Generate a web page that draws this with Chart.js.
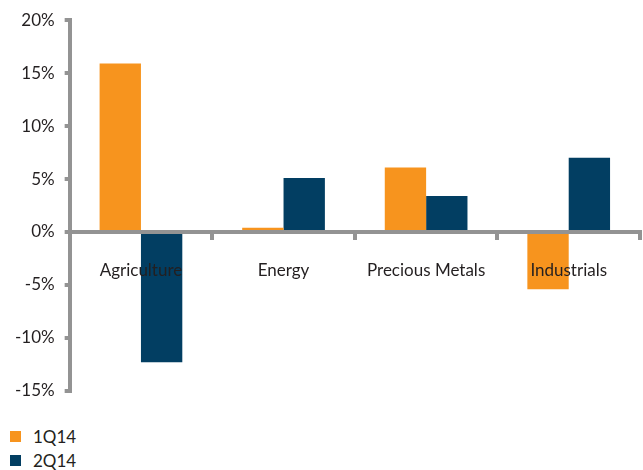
<!DOCTYPE html>
<html lang="en">
<head>
  <meta charset="UTF-8" />
  <title>Commodity returns 1Q14 vs 2Q14</title>
  <script src="https://cdn.jsdelivr.net/npm/chart.js"></script>
  <style>
    body { margin: 0; background: #fff; font-family: Lato, sans-serif; }
    .wrap { position: relative; width: 643px; height: 470px; }
    .chart-box { position: absolute; left: 0; top: 0; width: 643px; height: 411px; }
    #legend { position: absolute; left: 10px; top: 424px; font-size: 17px; color: #231f20; }
    #legend .item { display: flex; align-items: center; height: 24px; }
    #legend .swatch { width: 11px; height: 11px; margin-right: 12px; }
  </style>
</head>
<body>
<div class="wrap">
  <div class="chart-box"><canvas id="returnsChart"></canvas></div>
  <div id="legend"></div>
</div>

<script>
  const categories = ['Agriculture', 'Energy', 'Precious Metals', 'Industrials'];
  const q1Values = [15.9, 0.4, 6.1, -5.4];
  const q2Values = [-12.3, 5.1, 3.4, 7.0];
  const seriesNames = ['1Q14', '2Q14'];
  const seriesColors = ['#F7941E', '#023E62'];
  const yTicks = [20, 15, 10, 5, 0, -5, -10, -15];

  const axisGray = '#939393';
  const textColor = '#231f20';

  const chart = new Chart(document.getElementById('returnsChart'), {
    type: 'bar',
    data: {
      labels: categories,
      datasets: [
        { label: seriesNames[0], data: q1Values, backgroundColor: seriesColors[0] },
        { label: seriesNames[1], data: q2Values, backgroundColor: seriesColors[1] }
      ]
    },
    options: {
      responsive: true,
      maintainAspectRatio: false,
      animation: false,
      categoryPercentage: 0.58,
      barPercentage: 1.0,
      layout: { padding: { top: 16, bottom: 12, right: 3, left: 5 } },
      plugins: {
        legend: { display: false },
        tooltip: { enabled: false }
      },
      scales: {
        x: {
          position: { y: 0 },
          border: { display: true, color: axisGray, width: 4, z: 1 },
          grid: { display: true, drawOnChartArea: false, drawTicks: true, tickLength: 6, color: axisGray, lineWidth: 4, offset: true },
          ticks: { color: textColor, font: { family: 'Lato', size: 17 }, padding: 22, maxRotation: 0, z: 1 }
        },
        y: {
          min: -15,
          max: 20,
          afterBuildTicks: (axis) => { axis.ticks = yTicks.map(v => ({ value: v })); },
          border: { display: true, color: axisGray, width: 4 },
          grid: { display: true, drawOnChartArea: false, drawTicks: true, tickLength: 5, color: axisGray, lineWidth: 4 },
          ticks: { color: textColor, font: { family: 'Lato', size: 17 }, padding: 10, callback: v => v + '%' }
        }
      }
    }
  });

  const legendEl = document.getElementById('legend');
  chart.data.datasets.forEach(ds => {
    const item = document.createElement('div');
    item.className = 'item';
    item.innerHTML = '<span class="swatch" style="background:' + ds.backgroundColor + '"></span>' + ds.label;
    legendEl.appendChild(item);
  });
</script>
</body>
</html>
